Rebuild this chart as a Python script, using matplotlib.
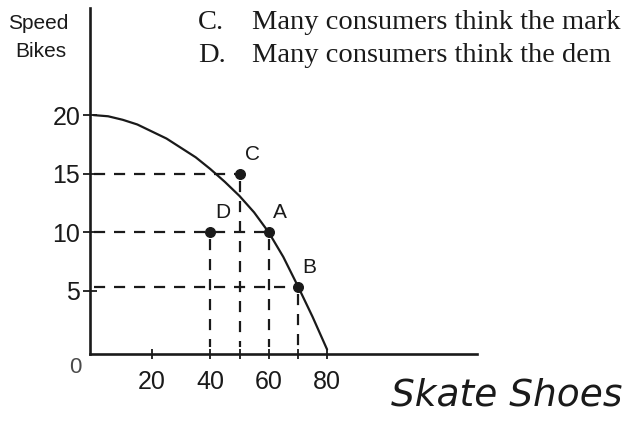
import matplotlib
matplotlib.use("Agg")
import matplotlib.pyplot as plt

# Production possibilities frontier: speed bikes vs. skate shoes
curve_shoes = [0, 5, 10, 15, 20, 25, 30, 35, 40, 45, 50, 55, 60, 65, 70, 75, 80]
curve_bikes = [20, 19.9, 19.6, 19.2, 18.6, 18.0, 17.2, 16.4, 15.4, 14.3, 13.1, 11.7, 10.0, 7.9, 5.4, 2.8, 0]

point_names = ["C", "D", "A", "B"]
point_shoes = [50, 40, 60, 70]
point_bikes = [15, 10, 10, 5.3]

y_ticks = [5, 10, 15, 20]
x_ticks = [20, 40, 60, 80]
x_minor_ticks = [50, 70]

INK = "#1a1a1a"
W, H = 626, 421
fig = plt.figure(figsize=(W / 100, H / 100), dpi=100)
ax = fig.add_axes([0, 0, 1, 1])

# data -> pixel scale chosen so the axes fill the whole canvas
x0_px, sx = 93.5, 2.92
y0_px, sy = 349.5, 11.72
ax.set_xlim(-x0_px / sx, (W - x0_px) / sx)
ax.set_ylim((y0_px - H) / sy, y0_px / sy)

for s in ["top", "right"]:
    ax.spines[s].set_visible(False)
ax.spines["left"].set_position(("data", -1.2))
ax.spines["left"].set_bounds(-0.4, 29.1)
ax.spines["bottom"].set_position(("data", -0.4))
ax.spines["bottom"].set_bounds(-1.2, 131.5)
for s in ["left", "bottom"]:
    ax.spines[s].set_linewidth(1.9)
    ax.spines[s].set_color(INK)

ax.set_yticks(y_ticks)
ax.set_yticklabels([str(v) for v in y_ticks])
ax.set_xticks(x_ticks)
ax.set_xticklabels([str(v) for v in x_ticks])
ax.set_xticks(x_minor_ticks, minor=True)
ax.tick_params(axis="y", direction="inout", length=10, width=1.3, pad=2, colors=INK,
               labelsize=18, labelfontfamily="Liberation Sans")
ax.tick_params(axis="x", which="both", direction="inout", length=7, width=1.3, pad=8,
               colors=INK, labelsize=18, labelfontfamily="Liberation Sans")
ax.annotate("0", (0, 0), xytext=(-13, -13), textcoords="offset points",
            ha="center", va="center", fontsize=16, color="#4a4a4a",
            family="Liberation Sans")

# frontier curve
ax.plot(curve_shoes, curve_bikes, color=INK, lw=1.6, solid_capstyle="round")

# dashed guide lines from each point to both axes
dash = dict(color=INK, lw=1.6, dashes=(5, 4))
for name, xs, yb in zip(point_names, point_shoes, point_bikes):
    if name != "D":
        ax.plot([0, xs], [yb, yb], **dash)
    ax.plot([xs, xs], [yb - 0.6, 0.2], **dash)

ax.scatter(point_shoes, point_bikes, s=48, color=INK, zorder=5)
label_offsets = {"C": (9, 14), "D": (9, 14), "A": (8, 14), "B": (8, 14)}
for name, xs, yb in zip(point_names, point_shoes, point_bikes):
    ax.annotate(name, (xs, yb), xytext=label_offsets[name], textcoords="offset points",
                ha="center", va="center", fontsize=15, color=INK,
                family="Liberation Sans")

# axis titles
fig.text(38 / W, 1 - 29 / H, "Speed", ha="center", va="baseline", fontsize=15,
         color=INK, family="Liberation Sans")
fig.text(41 / W, 1 - 57 / H, "Bikes", ha="center", va="baseline", fontsize=15,
         color=INK, family="Liberation Sans")
fig.text(507 / W, 1 - 395 / H, "Skate Shoes", ha="center", va="center", fontsize=27,
         color=INK, family="DejaVu Sans", style="italic", fontweight="light")

# answer choices printed above the graph
serif = dict(ha="left", va="baseline", fontsize=20.5, color=INK, family="Liberation Serif")
fig.text(198 / W, 1 - 29 / H, "C.", **serif)
fig.text(252 / W, 1 - 29 / H, "Many consumers think the mark", **serif)
fig.text(198 / W, 1 - 62 / H, "D.", **serif)
fig.text(252 / W, 1 - 62 / H, "Many consumers think the dem", **serif)

fig.savefig("out.png", dpi=100, facecolor="white")
